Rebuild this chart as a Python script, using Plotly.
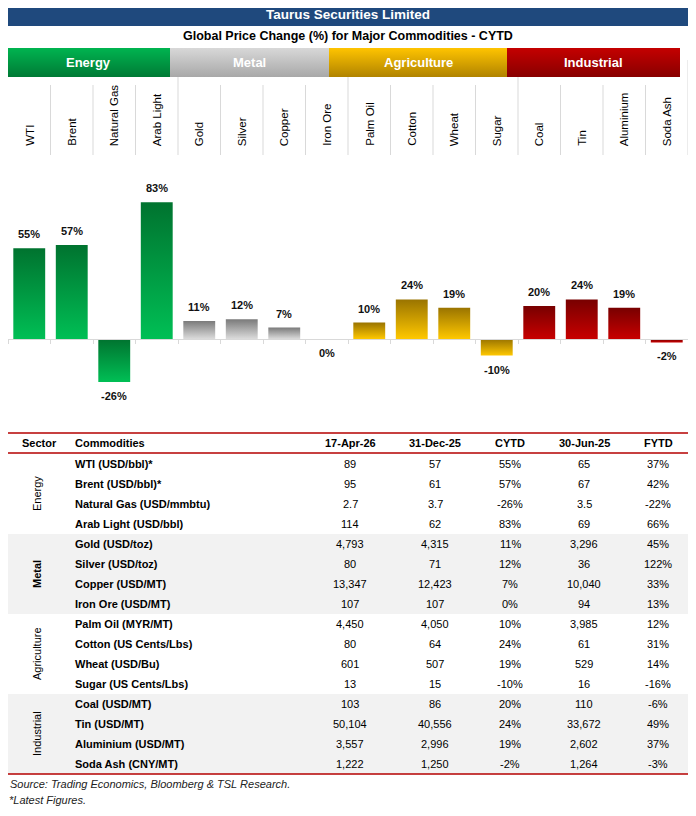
import plotly.graph_objects as go

# ---- data ----
commodities = ["WTI", "Brent", "Natural Gas", "Arab Light", "Gold", "Silver", "Copper", "Iron Ore",
               "Palm Oil", "Cotton", "Wheat", "Sugar", "Coal", "Tin", "Aluminium", "Soda Ash"]
sectors = ["Energy", "Metal", "Agriculture", "Industrial"]
sector_sizes = [4, 4, 4, 4]
cytd = [55, 57, -26, 83, 11, 12, 7, 0, 10, 24, 19, -10, 20, 24, 19, -2]

table_names = ["WTI (USD/bbl)*", "Brent (USD/bbl)*", "Natural Gas (USD/mmbtu)", "Arab Light (USD/bbl)",
               "Gold (USD/toz)", "Silver (USD/toz)", "Copper (USD/MT)", "Iron Ore (USD/MT)",
               "Palm Oil (MYR/MT)", "Cotton (US Cents/Lbs)", "Wheat (USD/Bu)", "Sugar (US Cents/Lbs)",
               "Coal (USD/MT)", "Tin (USD/MT)", "Aluminium (USD/MT)", "Soda Ash (CNY/MT)"]
price_17apr26 = [89, 95, 2.7, 114, 4793, 80, 13347, 107, 4450, 80, 601, 13, 103, 50104, 3557, 1222]
price_31dec25 = [57, 61, 3.7, 62, 4315, 71, 12423, 107, 4050, 64, 507, 15, 86, 40556, 2996, 1250]
price_30jun25 = [65, 67, 3.5, 69, 3296, 36, 10040, 94, 3985, 61, 529, 16, 110, 33672, 2602, 1264]
fytd = [37, 42, -22, 66, 45, 122, 33, 13, 12, 31, 14, -16, -6, 49, 37, -3]
table_headers = ["17-Apr-26", "31-Dec-25", "CYTD", "30-Jun-25", "FYTD"]

# ---- styling ----
# the page puts the plot 8px in from the window corner, so the figure is 16px smaller
# and the overlay axis is expressed in window pixels
OFF = 8
W, H = 696 - 2 * OFF, 816 - 2 * OFF
FONT = "Liberation Sans, Arial, sans-serif"
bar_dark = ["#00732F", "#7A7A7A", "#9A7400", "#780000"]
bar_light = ["#00BF55", "#DCDCDC", "#FFC800", "#C80000"]
head_dark = ["#007A35", "#A8A8A8", "#B08300", "#880000"]
head_light = ["#00B450", "#D8D8D8", "#FFC400", "#C40000"]
head_edges = [6, 170, 329, 507, 680]
RED = "#B40000"

col_left, col_right = 8, 688
col_w = (col_right - col_left) / len(commodities)
bar_top_px, bar_bot_px = 165, 415
y_lo, y_hi = -46, 105.5
half_bar = 0.375

sector_idx = []
for s, n in enumerate(sector_sizes):
    sector_idx += [s] * n


def fmt(v):
    return f"{v:,}" if isinstance(v, int) else f"{v}"


def px_x(v):
    return min(1, max(0, (v - OFF) / W))


def px_y(v):
    return min(1, max(0, 1 - (v - OFF) / H))


fig = go.Figure()

# bars (gradient filled)
for i, v in enumerate(cytd):
    s = sector_idx[i]
    fig.add_trace(go.Scatter(
        x=[i - half_bar, i + half_bar, i + half_bar, i - half_bar, i - half_bar],
        y=[0, 0, v, v, 0], mode="none", fill="toself",
        fillgradient=dict(type="vertical", colorscale=[[0, bar_light[s]], [1, bar_dark[s]]]),
        showlegend=False, hoverinfo="skip", xaxis="x", yaxis="y"))

annotations = []
for i, v in enumerate(cytd):
    annotations.append(dict(x=i, y=v, xref="x", yref="y", text=f"<b>{v}%</b>", showarrow=False,
                            yshift=14 if v > 0 else -14, font=dict(size=11, color="#111", family=FONT)))

# sector header bars
for s, name in enumerate(sectors):
    x0, x1 = head_edges[s], head_edges[s + 1]
    fig.add_trace(go.Scatter(
        x=[x0, x1, x1, x0, x0], y=[48, 48, 77, 77, 48], mode="none", fill="toself",
        fillgradient=dict(type="vertical", colorscale=[[0, head_dark[s]], [1, head_light[s]]]),
        showlegend=False, hoverinfo="skip", xaxis="x2", yaxis="y2"))
    annotations.append(dict(x=(x0 + x1) / 2, y=62.5, xref="x2", yref="y2", text=f"<b>{name}</b>",
                            showarrow=False, font=dict(size=13, color="white", family=FONT)))

shapes = [dict(type="rect", xref="x2", yref="y2", x0=6, x1=690, y0=1, y1=26,
               fillcolor="#1F497D", line_width=0, layer="below")]
annotations.append(dict(x=348, y=14, xref="x2", yref="y2", text="<b>Taurus Securities Limited</b>",
                        showarrow=False, font=dict(size=13.5, color="white", family=FONT)))
annotations.append(dict(x=348, y=36, xref="x2", yref="y2",
                        text="<b>Global Price Change (%) for Major Commodities - CYTD</b>",
                        showarrow=False, font=dict(size=12.5, color="black", family=FONT)))

# commodity column labels + separators
for i, name in enumerate(commodities):
    cx = col_left + (i + 0.5) * col_w
    annotations.append(dict(x=cx, y=148, xref="x2", yref="y2", text=name, textangle=-90,
                            yanchor="bottom", xanchor="center", showarrow=False,
                            font=dict(size=11.5, color="black", family=FONT)))
for k in range(1, len(commodities) + 1):
    xb = col_left + k * col_w
    top = 77 if k % 4 == 0 else 85
    if k == len(commodities):
        top = 60
    shapes.append(dict(type="line", xref="x2", yref="y2", x0=xb, x1=xb, y0=top, y1=155,
                       line=dict(color="#D9D9D9", width=1)))

# ---- table ----
row0, row_h = 464, 20
tbl_x0, tbl_x1 = 6, 690
col_cx = [350, 435, 510, 584, 658]
for s in range(len(sectors)):
    start = sum(sector_sizes[:s])
    y0 = row0 - row_h / 2 + start * row_h
    y1 = y0 + sector_sizes[s] * row_h
    if s % 2 == 1:
        shapes.append(dict(type="rect", xref="x2", yref="y2", x0=tbl_x0, x1=tbl_x1, y0=y0, y1=y1,
                           fillcolor="#F2F2F2", line_width=0, layer="below"))
    label = f"<b>{sectors[s]}</b>" if s == 1 else sectors[s]
    annotations.append(dict(x=37, y=(y0 + y1) / 2, xref="x2", yref="y2", text=label, textangle=-90,
                            showarrow=False, font=dict(size=11, color="black", family=FONT)))

for yl in [433, 453, 774]:
    shapes.append(dict(type="line", xref="x2", yref="y2", x0=tbl_x0, x1=tbl_x1, y0=yl, y1=yl,
                       line=dict(color=RED, width=1.3)))

annotations.append(dict(x=39, y=443, xref="x2", yref="y2", text="<b>Sector</b>", showarrow=False,
                        font=dict(size=11, color="black", family=FONT)))
annotations.append(dict(x=73, y=443, xref="x2", yref="y2", text="<b>Commodities</b>", showarrow=False,
                        xanchor="left", font=dict(size=11, color="black", family=FONT)))
for c, hdr in enumerate(table_headers):
    annotations.append(dict(x=col_cx[c], y=443, xref="x2", yref="y2", text=f"<b>{hdr}</b>",
                            showarrow=False, font=dict(size=11, color="black", family=FONT)))

for r, name in enumerate(table_names):
    yr = row0 + r * row_h
    annotations.append(dict(x=73, y=yr, xref="x2", yref="y2", text=f"<b>{name}</b>", showarrow=False,
                            xanchor="left", font=dict(size=11, color="black", family=FONT)))
    vals = [fmt(price_17apr26[r]), fmt(price_31dec25[r]), f"{cytd[r]}%",
            fmt(price_30jun25[r]), f"{fytd[r]}%"]
    for c, txt in enumerate(vals):
        annotations.append(dict(x=col_cx[c], y=yr, xref="x2", yref="y2", text=txt, showarrow=False,
                                font=dict(size=11, color="black", family=FONT)))

annotations.append(dict(x=8, y=784, xref="x2", yref="y2", xanchor="left", showarrow=False,
                        text="<i>Source: Trading Economics, Bloomberg & TSL Research.</i>",
                        font=dict(size=11, color="#222", family=FONT)))
annotations.append(dict(x=8, y=807, xref="x2", yref="y2", xanchor="left", yanchor="bottom",
                        showarrow=False, text="<i>*Latest Figures.</i>", borderpad=0,
                        font=dict(size=11, color="#222", family=FONT)))

# ---- axes ----
ydom = [px_y(bar_bot_px), px_y(bar_top_px)]
zero_pos = ydom[0] + (0 - y_lo) / (y_hi - y_lo) * (ydom[1] - ydom[0])

fig.update_layout(
    width=W, height=H, margin=dict(l=0, r=0, t=0, b=0),
    paper_bgcolor="white", plot_bgcolor="rgba(0,0,0,0)",
    showlegend=False,
    xaxis=dict(domain=[px_x(col_left), px_x(col_right)], range=[-0.5, len(commodities) - 0.5],
               anchor="free", position=zero_pos, showgrid=False, zeroline=False,
               showline=True, linecolor="#D9D9D9", linewidth=1,
               tickvals=[k - 0.5 for k in range(len(commodities) + 1)], ticks="outside",
               ticklen=4, tickcolor="#D9D9D9", showticklabels=False, fixedrange=True),
    yaxis=dict(domain=ydom, range=[y_lo, y_hi], visible=False, fixedrange=True),
    xaxis2=dict(domain=[0, 1], range=[OFF, OFF + W], visible=False, anchor="y2", fixedrange=True),
    yaxis2=dict(domain=[0, 1], range=[OFF + H, OFF], visible=False, anchor="x2", fixedrange=True),
    shapes=shapes,
    annotations=annotations,
)

fig.write_html("out.html")
